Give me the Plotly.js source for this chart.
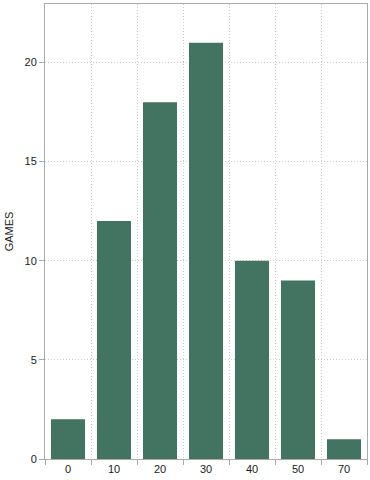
<!DOCTYPE html>
<html>
<head>
<meta charset="utf-8">
<script src="https://cdn.plot.ly/plotly-3.0.1.min.js"></script>
<style>html,body{margin:0;padding:0;background:#fff;}#chart{width:370px;height:480px;}</style>
</head>
<body>
<div id="chart"></div>
<script>
var categories = ["0", "10", "20", "30", "40", "50", "70"];
var games = [2, 12, 18, 21, 10, 9, 1];
var yTicks = [0, 5, 10, 15, 20];

var trace = {
  type: "bar",
  x: categories,
  y: games,
  marker: {color: "#437462", line: {width: 0}},
  hoverinfo: "x+y"
};

var layout = {
  width: 370,
  height: 480,
  margin: {l: 45, r: 3, t: 4, b: 21},
  paper_bgcolor: "#ffffff",
  plot_bgcolor: "#ffffff",
  bargap: 0.26,
  showlegend: false,
  font: {family: "Liberation Sans, Arial, sans-serif", size: 11, color: "#222"},
  xaxis: {
    type: "category",
    categoryorder: "array",
    categoryarray: categories,
    tickson: "boundaries",
    ticks: "outside",
    ticklen: 5,
    tickcolor: "#aaaaaa",
    showgrid: true,
    gridcolor: "#cccccc",
    griddash: "1px,2px",
    gridwidth: 1,
    showline: true,
    linecolor: "#aaaaaa",
    linewidth: 1,
    mirror: true,
    tickfont: {size: 11, color: "#222"},
    fixedrange: true
  },
  yaxis: {
    range: [0, 22.95],
    tickvals: yTicks,
    ticktext: yTicks.map(String),
    ticks: "outside",
    ticklen: 5,
    tickcolor: "#aaaaaa",
    showgrid: true,
    gridcolor: "#cccccc",
    griddash: "1px,2px",
    gridwidth: 1,
    zeroline: false,
    showline: true,
    linecolor: "#aaaaaa",
    linewidth: 1,
    mirror: true,
    tickfont: {size: 11, color: "#222"},
    title: {text: "GAMES", font: {size: 11, color: "#222"}, standoff: 8},
    fixedrange: true
  }
};

Plotly.newPlot("chart", [trace], layout, {displayModeBar: false, staticPlot: true});
</script>
</body>
</html>
